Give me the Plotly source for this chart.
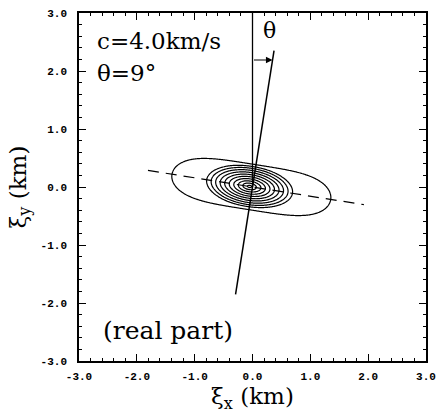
import numpy as np
import plotly.graph_objects as go

# Slowness / phase-velocity estimate shown on the panel
SPEED_KMS = 4.0
THETA_DEG = 9

# Axis limits and tick labels (km)
axis_range = [-3.0, 3.0]
tick_vals = [-3.0, -2.0, -1.0, 0.0, 1.0, 2.0, 3.0]
tick_text = ["-3.0", "-2.0", "-1.0", "0.0", "1.0", "2.0", "3.0"]

# Contour levels: one outer envelope level plus ten nested levels of the core
contour_levels = [1, 2, 3, 4, 5, 6, 7, 8, 9, 10, 11]

# Correlation-field model (lag coordinates in km, rotated by theta)
envelope = dict(xc=-0.02, yc=0.0, half_len=1.42, half_wid=0.41, height=1.5)
core = dict(xc=-0.05, yc=0.01, half_len=0.79, half_wid=0.37, height=10.0)

# Propagation line (along theta) and dashed wavefront line (perpendicular), km
prop_extent = [-1.85, 2.35]
front_extent = [-1.83, 1.95]
arrow_y = 2.19

a = np.deg2rad(THETA_DEG)
grid = np.linspace(axis_range[0], axis_range[1], 401)
X, Y = np.meshgrid(grid, grid)


def rotated(p):
    dx, dy = X - p["xc"], Y - p["yc"]
    u = dx * np.cos(a) - dy * np.sin(a)
    v = dx * np.sin(a) + dy * np.cos(a)
    return u, v


u1, v1 = rotated(envelope)
q = (np.abs(u1) / envelope["half_len"]) ** 4 + (v1 / envelope["half_wid"]) ** 2
Z = envelope["height"] / (1.0 + q ** 8)

u2, v2 = rotated(core)
r = np.sqrt((u2 / core["half_len"]) ** 2 + (v2 / core["half_wid"]) ** 2)
Z = Z + core["height"] * np.clip(1.0 - r, 0.0, None)

fig = go.Figure()

fig.add_trace(go.Contour(
    x=grid, y=grid, z=Z,
    contours=dict(coloring="lines", start=contour_levels[0],
                  end=contour_levels[-1],
                  size=contour_levels[1] - contour_levels[0]),
    colorscale=[[0, "black"], [1, "black"]],
    line=dict(width=1.2),
    showscale=False, hoverinfo="skip",
))

# Dashed wavefront line through the origin, perpendicular to theta
t = np.array(front_extent)
fig.add_trace(go.Scatter(
    x=t * np.cos(a), y=-t * np.sin(a), mode="lines",
    line=dict(color="black", width=1.2, dash="11px,7px"),
    showlegend=False, hoverinfo="skip",
))

# Reference north line and propagation direction
fig.add_trace(go.Scatter(
    x=[0, 0], y=[0, axis_range[1]], mode="lines",
    line=dict(color="black", width=1.3), showlegend=False, hoverinfo="skip",
))
s = np.array(prop_extent)
fig.add_trace(go.Scatter(
    x=s * np.tan(a), y=s, mode="lines",
    line=dict(color="black", width=1.5), showlegend=False, hoverinfo="skip",
))

serif = "DejaVu Serif"
fig.add_annotation(
    x=arrow_y * np.tan(a), y=arrow_y, ax=0, ay=arrow_y,
    xref="x", yref="y", axref="x", ayref="y",
    showarrow=True, arrowhead=2, arrowsize=1.1, arrowwidth=1.2,
    arrowcolor="black", text="",
)
fig.add_annotation(x=0.29, y=2.69, xref="x", yref="y", text="θ",
                   showarrow=False, font=dict(family=serif, size=22, color="black"))
fig.add_annotation(x=-2.73, y=2.52, xref="x", yref="y", xanchor="left",
                   text=f"c={SPEED_KMS:.1f}km/s", showarrow=False,
                   font=dict(family=serif, size=23, color="black"))
fig.add_annotation(x=-2.73, y=1.97, xref="x", yref="y", xanchor="left",
                   text=f"θ={THETA_DEG}°", showarrow=False,
                   font=dict(family=serif, size=23, color="black"))
fig.add_annotation(x=-2.62, y=-2.47, xref="x", yref="y", xanchor="left",
                   text="(real part)", showarrow=False,
                   font=dict(family=serif, size=25, color="black"))

tick_font = dict(family="Liberation Mono", size=11, color="black", weight="bold")
axis_common = dict(
    range=axis_range, tickvals=tick_vals, ticktext=tick_text,
    ticks="inside", ticklen=7, tickwidth=1.2, tickcolor="black",
    minor=dict(dtick=0.2, ticks="inside", ticklen=3.5, tickwidth=1,
               tickcolor="black"),
    showline=True, linewidth=1.6, linecolor="black", mirror="ticks",
    showgrid=False, zeroline=False, tickfont=tick_font, automargin=False,
)

fig.update_layout(
    width=439, height=419,
    margin=dict(l=79, r=13, t=13, b=58),
    paper_bgcolor="white", plot_bgcolor="white",
    showlegend=False,
    xaxis=dict(**axis_common, ticklabelstandoff=4,
               title=dict(text="ξ<sub>x</sub> (km)", standoff=6,
                          font=dict(family=serif, size=23, color="black"))),
    yaxis=dict(**axis_common, ticklabelstandoff=8,
               title=dict(text="ξ<sub>y</sub> (km)", standoff=8,
                          font=dict(family=serif, size=23, color="black"))),
)

fig.write_html("out.html")
